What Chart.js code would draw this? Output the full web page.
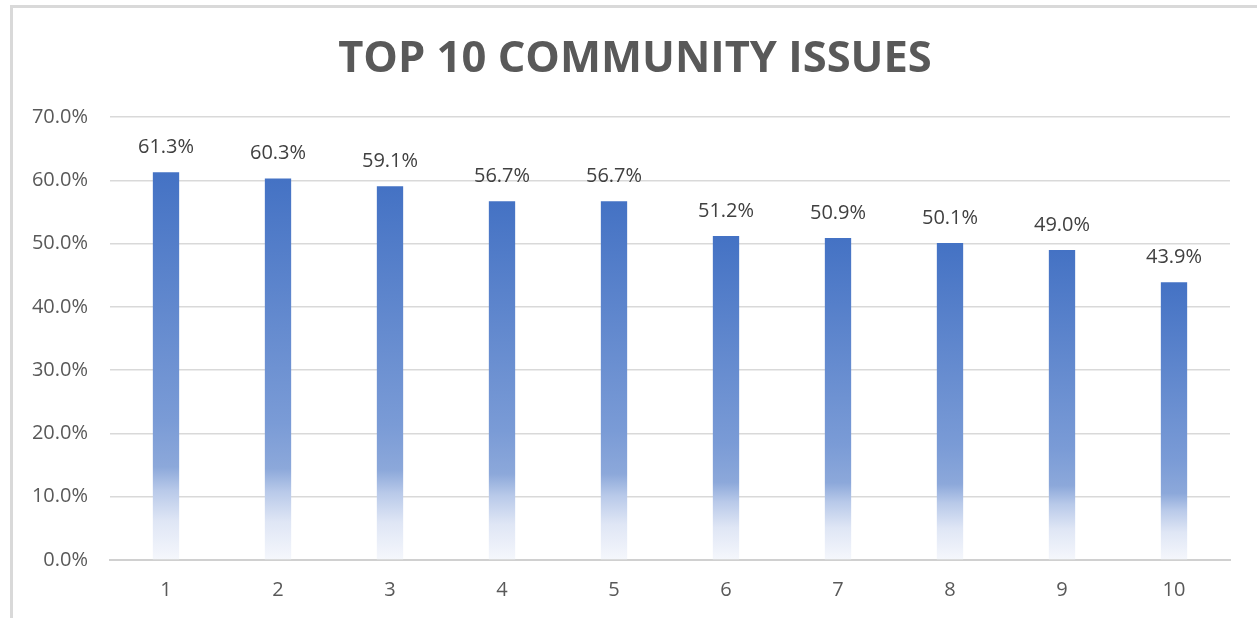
<!DOCTYPE html>
<html>
<head>
<meta charset="utf-8">
<script src="https://cdn.jsdelivr.net/npm/chart.js@4.4.1/dist/chart.umd.min.js"></script>
<style>
  html, body { margin: 0; padding: 0; background: #ffffff; overflow: hidden; }
  #wrap { position: relative; width: 1257px; height: 618px; }
  #frame { position: absolute; left: 10px; top: 5px; width: 1260px; height: 640px;
           border-top: 3px solid #d9d9d9; border-left: 3px solid #d9d9d9; box-sizing: border-box; }
  canvas { position: absolute; left: 0; top: 0; }
</style>
</head>
<body>
<div id="wrap">
  <div id="frame"></div>
  <canvas id="c" width="1257" height="618"></canvas>
</div>
<script>
const chartTitle = "TOP 10 COMMUNITY ISSUES";
const categories = ["1", "2", "3", "4", "5", "6", "7", "8", "9", "10"];
const values = [61.3, 60.3, 59.1, 56.7, 56.7, 51.2, 50.9, 50.1, 49.0, 43.9];
const yMin = 0, yMax = 70, yStep = 10;

function barGradient(ctx) {
  const chart = ctx.chart;
  const area = chart.chartArea;
  if (!area || !chart.scales.y) return '#4472C4';
  const v = ctx.raw;
  const yTop = chart.scales.y.getPixelForValue(v);
  const yBot = chart.scales.y.getPixelForValue(0);
  const g = chart.ctx.createLinearGradient(0, yTop, 0, yBot);
  g.addColorStop(0, '#4472C4');
  g.addColorStop(0.64, '#7a9bd6');
  g.addColorStop(0.76, '#8ca8da');
  g.addColorStop(0.82, '#b8c9e9');
  g.addColorStop(0.9, '#dfe6f5');
  g.addColorStop(1, '#f5f7fc');
  return g;
}

const dataLabels = {
  id: 'dataLabels',
  afterDatasetsDraw(chart) {
    const c = chart.ctx;
    const meta = chart.getDatasetMeta(0);
    c.save();
    c.font = '20px "Open Sans"';
    c.fillStyle = '#404040';
    c.textAlign = 'center';
    c.textBaseline = 'middle';
    meta.data.forEach((bar, i) => {
      c.fillText(values[i].toFixed(1) + '%', bar.x, bar.y - 25);
    });
    c.restore();
  }
};

new Chart(document.getElementById('c'), {
  type: 'bar',
  data: {
    labels: categories,
    datasets: [{
      data: values,
      backgroundColor: barGradient,
      borderWidth: 0,
      categoryPercentage: 1,
      barPercentage: 0.235
    }]
  },
  options: {
    responsive: false,
    animation: false,
    layout: { padding: { left: 13, right: 0, top: 0, bottom: 0 } },
    plugins: {
      legend: { display: false },
      tooltip: { enabled: false },
      title: {
        display: true,
        text: chartTitle,
        color: '#595959',
        font: { family: '"Open Sans"', size: 43.5, weight: 'bold', lineHeight: 1.2 },
        padding: { top: 34, bottom: 31 }
      }
    },
    scales: {
      x: {
        grid: { display: false, drawTicks: false },
        border: { display: true, color: '#d0d0d0', width: 2 },
        ticks: { color: '#595959', font: { family: '"Open Sans"', size: 20 }, padding: 18 },
        afterFit(s) { s.height = 58; }
      },
      y: {
        min: yMin, max: yMax,
        grid: { color: '#d9d9d9', lineWidth: 1.5, drawTicks: false },
        border: { display: false },
        ticks: {
          stepSize: yStep,
          color: '#595959',
          font: { family: '"Open Sans"', size: 20 },
          padding: 22,
          callback: v => v.toFixed(1) + '%'
        },
        afterFit(s) { s.width = 97; }
      },
      yRightSpace: {
        position: 'right',
        min: yMin, max: yMax,
        grid: { display: false, drawTicks: false },
        border: { display: false },
        ticks: { display: false },
        afterFit(s) { s.width = 27; }
      }
    }
  },
  plugins: [dataLabels]
});
</script>
</body>
</html>
